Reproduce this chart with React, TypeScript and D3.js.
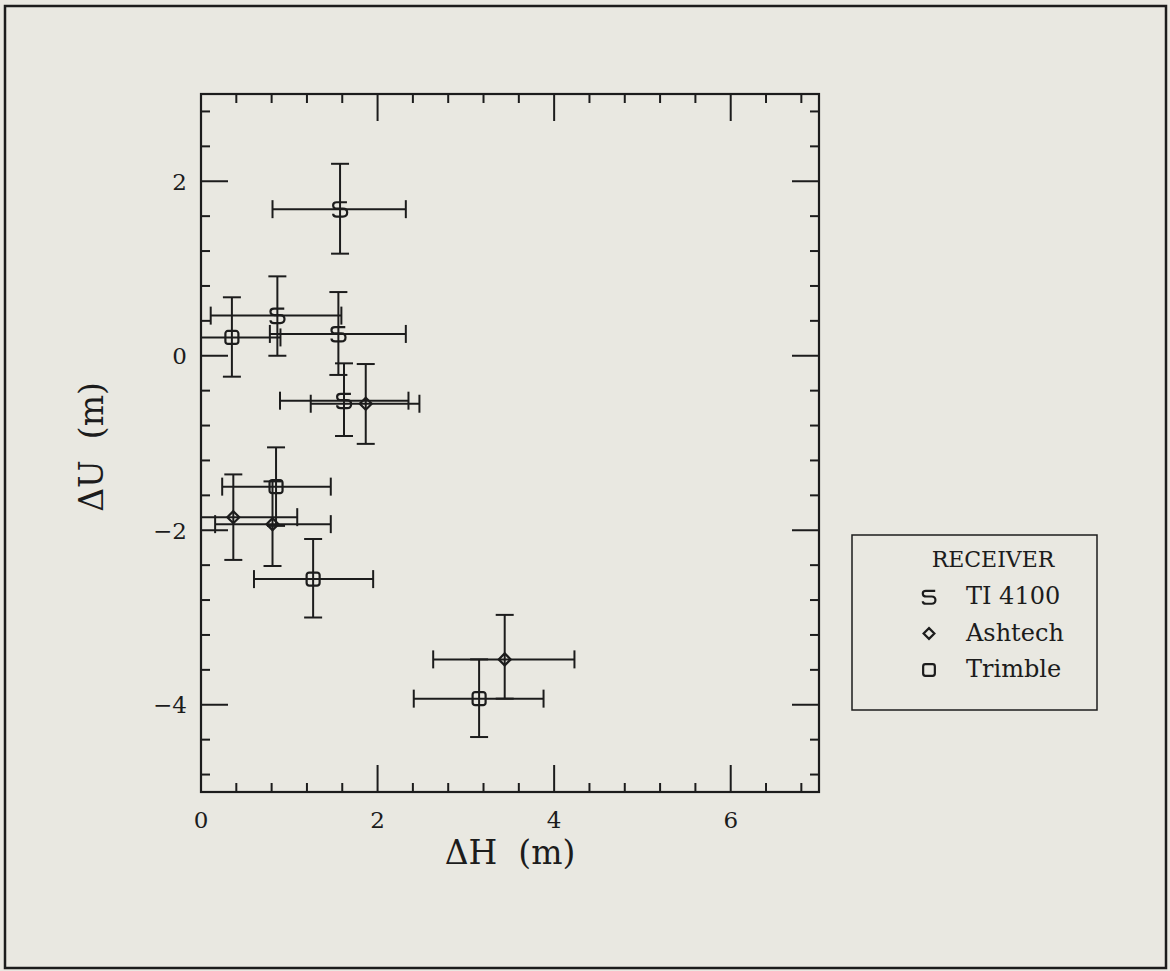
import React from "react";
import * as d3 from "d3";

// ---- data ----
const tiX = [1.575, 0.865, 1.556, 1.62];
const tiY = [1.68, 0.46, 0.25, -0.515];
const tiXLo = [0.81, 0.11, 0.78, 0.895];
const tiXHi = [2.32, 1.59, 2.32, 2.35];
const tiYLo = [1.17, 0.0, -0.22, -0.92];
const tiYHi = [2.2, 0.91, 0.73, -0.087];

const ashX = [1.866, 0.366, 0.81, 3.44];
const ashY = [-0.55, -1.85, -1.93, -3.48];
const ashXLo = [1.243, -0.36, 0.16, 2.63];
const ashXHi = [2.474, 1.09, 1.47, 4.23];
const ashYLo = [-1.01, -2.34, -2.41, -3.93];
const ashYHi = [-0.095, -1.36, -1.44, -2.97];

const triX = [0.35, 0.85, 1.27, 3.15];
const triY = [0.21, -1.5, -2.56, -3.93];
const triXLo = [-0.2, 0.24, 0.6, 2.41];
const triXHi = [0.9, 1.47, 1.95, 3.88];
const triYLo = [-0.24, -1.95, -3.0, -4.37];
const triYHi = [0.67, -1.05, -2.1, -3.48];

const xTickValues = [0, 2, 4, 6];
const yTickValues = [-4, -2, 0, 2];
const legendLabels = ["TI 4100", "Ashtech", "Trimble"];
const legendTitle = "RECEIVER";

const W = 1170;
const H = 971;
const left = 201, right = 819, top = 94, bottom = 792;
const ink = "#1c1c1c";
const bg = "#e9e8e1";
const font = "'DejaVu Serif', serif";

const x = d3.scaleLinear().domain([0, 7]).range([left, right]);
const y = d3.scaleLinear().domain([-5, 3]).range([bottom, top]);

const tiPath =
  "M6,-6 H-3 Q-6,-6 -6,-3.5 Q-6,-0.5 -2.5,-0.5 H2.5 Q6.2,-0.5 6.2,3 Q6.2,6.5 2.5,6.5 H-3 Q-6,6.5 -6,4";
const diamondPath = (s: number) => `M0,${-s} L${s},0 L0,${s} L${-s},0 Z`;

type Series = {
  name: string;
  xs: number[]; ys: number[];
  xlo: number[]; xhi: number[]; ylo: number[]; yhi: number[];
  kind: "ti" | "ash" | "tri";
};

const series: Series[] = [
  { name: legendLabels[0], xs: tiX, ys: tiY, xlo: tiXLo, xhi: tiXHi, ylo: tiYLo, yhi: tiYHi, kind: "ti" },
  { name: legendLabels[1], xs: ashX, ys: ashY, xlo: ashXLo, xhi: ashXHi, ylo: ashYLo, yhi: ashYHi, kind: "ash" },
  { name: legendLabels[2], xs: triX, ys: triY, xlo: triXLo, xhi: triXHi, ylo: triYLo, yhi: triYHi, kind: "tri" },
];

function Marker({ kind, cx, cy, scale = 1 }: { kind: string; cx: number; cy: number; scale?: number }) {
  if (kind === "ti") {
    const s = scale * 1.15;
    return <path d={tiPath} transform={`translate(${cx},${cy}) scale(${s})`} fill="none" stroke={ink} strokeWidth={2.2 / s} />;
  }
  const t = `translate(${cx},${cy}) scale(${scale})`;
  if (kind === "ash")
    return <path d={diamondPath(6)} transform={t} fill="none" stroke={ink} strokeWidth={2.2 / scale} />;
  return <rect x={-6.5} y={-6.5} width={13} height={13} rx={2.5} transform={t} fill="none" stroke={ink} strokeWidth={2.2 / scale} />;
}

export default function App() {
  const cap = 9;
  const minorX = d3.range(0.4, 7, 0.4).filter((v) => Math.abs(v / 2 - Math.round(v / 2)) > 0.01);
  const minorY = d3.range(-4.8, 3, 0.4).filter((v) => Math.abs(v / 2 - Math.round(v / 2)) > 0.01);
  const majLen = 27, minLen = 9;

  return (
    <svg width={W} height={H} style={{ position: "absolute", left: 0, top: 0 }} fontFamily={font}>
      <rect x={0} y={0} width={W} height={H} fill={bg} />
      <rect x={5} y={6} width={1161} height={962} fill="none" stroke={ink} strokeWidth={2.5} />
      <defs>
        <clipPath id="plotclip">
          <rect x={left} y={top} width={right - left} height={bottom - top} />
        </clipPath>
      </defs>

      {/* frame */}
      <rect x={left} y={top} width={right - left} height={bottom - top} fill="none" stroke={ink} strokeWidth={2.2} />

      {/* ticks */}
      <g stroke={ink} strokeWidth={2}>
        {minorX.map((v) => (
          <g key={"mx" + v}>
            <line x1={x(v)} x2={x(v)} y1={bottom} y2={bottom - minLen} />
            <line x1={x(v)} x2={x(v)} y1={top} y2={top + minLen} />
          </g>
        ))}
        {xTickValues.filter((v) => v > 0).map((v) => (
          <g key={"Mx" + v}>
            <line x1={x(v)} x2={x(v)} y1={bottom} y2={bottom - majLen} />
            <line x1={x(v)} x2={x(v)} y1={top} y2={top + majLen} />
          </g>
        ))}
        {minorY.map((v) => (
          <g key={"my" + v}>
            <line x1={left} x2={left + minLen} y1={y(v)} y2={y(v)} />
            <line x1={right} x2={right - minLen} y1={y(v)} y2={y(v)} />
          </g>
        ))}
        {yTickValues.map((v) => (
          <g key={"My" + v}>
            <line x1={left} x2={left + majLen} y1={y(v)} y2={y(v)} />
            <line x1={right} x2={right - majLen} y1={y(v)} y2={y(v)} />
          </g>
        ))}
      </g>

      {/* tick labels */}
      <g fill={ink} fontSize={23}>
        {xTickValues.map((v) => (
          <text key={"tx" + v} x={x(v)} y={828} textAnchor="middle">{d3.format("d")(v)}</text>
        ))}
        {yTickValues.map((v) => (
          <text key={"ty" + v} x={187} y={y(v) + 8.5} textAnchor="end">
            {v < 0 ? "\u2212" + Math.abs(v) : String(v)}
          </text>
        ))}
      </g>

      {/* axis titles */}
      <text x={510} y={864} textAnchor="middle" fontSize={33} fill={ink} style={{ whiteSpace: "pre" }}>
        {"ΔH  (m)"}
      </text>
      <text transform="translate(103,447) rotate(-90)" textAnchor="middle" fontSize={33} fill={ink} style={{ whiteSpace: "pre" }}>
        {"ΔU  (m)"}
      </text>

      {/* error bars and markers */}
      <g clipPath="url(#plotclip)" stroke={ink} strokeWidth={2} fill="none">
        {series.map((s) =>
          s.xs.map((xv, i) => {
            const cx = x(xv), cy = y(s.ys[i]);
            const x0 = x(s.xlo[i]), x1 = x(s.xhi[i]);
            const y0 = y(s.ylo[i]), y1 = y(s.yhi[i]);
            return (
              <g key={s.kind + i}>
                <line x1={x0} x2={x1} y1={cy} y2={cy} />
                <line x1={x0} x2={x0} y1={cy - cap} y2={cy + cap} />
                <line x1={x1} x2={x1} y1={cy - cap} y2={cy + cap} />
                <line x1={cx} x2={cx} y1={y0} y2={y1} />
                <line x1={cx - cap} x2={cx + cap} y1={y0} y2={y0} />
                <line x1={cx - cap} x2={cx + cap} y1={y1} y2={y1} />
              </g>
            );
          })
        )}
        {series.map((s) =>
          s.xs.map((xv, i) => (
            <Marker key={"m" + s.kind + i} kind={s.kind} cx={x(xv)} cy={y(s.ys[i])} />
          ))
        )}
      </g>

      {/* legend */}
      <g>
        <rect x={852} y={535} width={245} height={175} fill="none" stroke={ink} strokeWidth={1.5} />
        <text x={993} y={567} textAnchor="middle" fontSize={22} fill={ink}>{legendTitle}</text>
        {series.map((s, i) => {
          const by = 604 + i * 36.5;
          return (
            <g key={"lg" + i}>
              <Marker kind={s.kind} cx={929} cy={by - 7} scale={0.9} />
              <text x={966} y={by} fontSize={24} fill={ink}>{s.name}</text>
            </g>
          );
        })}
      </g>
    </svg>
  );
}
